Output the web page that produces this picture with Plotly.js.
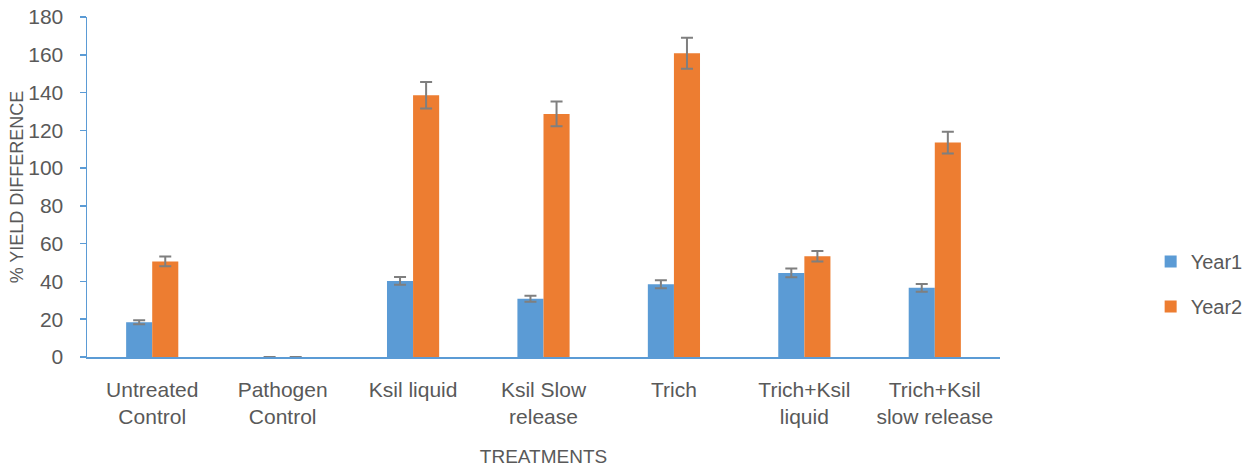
<!DOCTYPE html>
<html>
<head>
<meta charset="utf-8">
<script src="https://cdn.plot.ly/plotly-3.0.1.min.js"></script>
<style>html,body{margin:0;padding:0;background:#fff;}#chart{width:1260px;height:467px;}</style>
</head>
<body>
<div id="chart"></div>
<script>
const categories = ["Untreated<br>Control", "Pathogen<br>Control", "Ksil liquid", "Ksil Slow<br>release", "Trich", "Trich+Ksil<br>liquid", "Trich+Ksil<br>slow release"];
const year1 = [18.4, 0, 40.3, 30.8, 38.5, 44.5, 36.6];
const year1Err = [1.1, 0, 2.1, 1.6, 2.1, 2.3, 2.0];
const year2 = [50.6, 0, 138.6, 128.7, 160.8, 53.3, 113.5];
const year2Err = [2.6, 0, 7.0, 6.5, 8.2, 2.8, 5.8];
const yTicks = [0, 20, 40, 60, 80, 100, 120, 140, 160, 180];

const font = "Liberation Sans, Arial, sans-serif";
const errStyle = {type: 'data', visible: true, color: '#7f7f7f', thickness: 2, width: 6};

const traces = [
  {type: 'bar', name: 'Year1', x: categories, y: year1, legendgroup: 'a',
   marker: {color: '#5b9bd5'}, error_y: Object.assign({array: year1Err}, errStyle)},
  {type: 'bar', name: 'Year2', x: categories, y: year2, legendgroup: 'b',
   marker: {color: '#ed7d31'}, error_y: Object.assign({array: year2Err}, errStyle)}
];

const layout = {
  width: 1260, height: 467,
  margin: {l: 87, r: 258, t: 17, b: 110},
  paper_bgcolor: '#fff', plot_bgcolor: '#fff',
  barmode: 'group', bargap: 0.6, bargroupgap: 0,
  font: {family: font, color: '#595959', size: 20},
  showlegend: true,
  legend: {x: 1.165, y: 0.215, xanchor: 'left', yanchor: 'middle', traceorder: 'grouped',
           tracegroupgap: 16, font: {size: 20, color: '#595959'}},
  xaxis: {
    showline: true, linecolor: '#5b9bd5', linewidth: 1.5, ticks: '', showgrid: false,
    tickfont: {size: 21, color: '#595959'}, zeroline: false, ticklabelstandoff: 13,
    title: {text: 'TREATMENTS', font: {size: 19, color: '#595959'}, standoff: 22}
  },
  yaxis: {
    range: [0, 180], tickvals: yTicks, ticktext: yTicks.map(String),
    showline: true, linecolor: '#5b9bd5', linewidth: 1.5, ticks: 'outside', ticklen: 6,
    tickcolor: '#5b9bd5', tickwidth: 1.5, showgrid: false, zeroline: false,
    tickfont: {size: 21, color: '#595959'}, ticklabelstandoff: 12,
    title: {text: '% YIELD DIFFERENCE', font: {size: 18, color: '#595959'}, standoff: 0}
  }
};

Plotly.newPlot('chart', traces, layout, {displayModeBar: false, staticPlot: true});
</script>
</body>
</html>
